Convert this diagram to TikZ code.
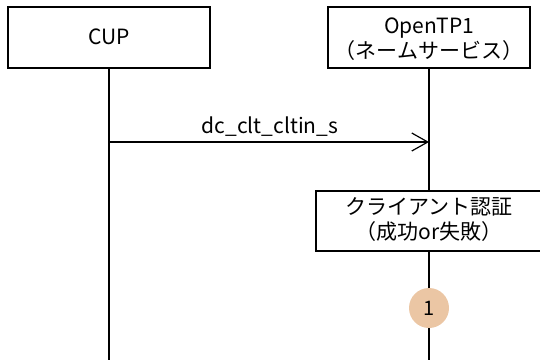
\documentclass[tikz,border=0pt]{standalone}
\usepackage{fontspec}
\setmainfont{Noto Sans CJK JP}
\usetikzlibrary{arrows.meta}
\definecolor{badge}{HTML}{EBC6A4}
\begin{document}
\begin{tikzpicture}[x=1pt,y=-1pt,
  lbl/.style={font=\fontsize{21}{25}\selectfont, inner sep=0pt, align=center},
  box/.style={draw, line width=1.2pt, fill=white},
  life/.style={line width=1.2pt},
  msg/.style={line width=1.2pt, -{Straight Barb[length=16pt,width=18pt,line width=1.2pt]}}]
\useasboundingbox (0,0) rectangle (540,360);
\draw[box] (8,7) rectangle (210,68);
\node[lbl] (cup) at (109,37) {CUP};
\draw[box] (328,7) rectangle (530,68);
\node[lbl] (otp) at (429,39) {OpenTP1\\（ネームサービス）};
\coordinate (cupb) at (109,68);
\coordinate (cupe) at (109,360);
\coordinate (otpb) at (429,68);
\coordinate (m1a) at (109,142);
\coordinate (m1b) at (429,142);
\coordinate (authT) at (429,191);
\coordinate (authB) at (429,251);
\coordinate (otpe) at (429,360);
\draw[life] (cupb) -- (cupe);
\draw[life] (otpb) -- (authT);
\draw[life] (authB) -- (otpe);
\draw[msg] (m1a) -- (m1b);
\node[lbl] (m1l) at (270,127) {dc\_clt\_cltin\_s};
\draw[box] (316,191) rectangle (541,251);
\node[lbl] (auth) at (429,220) {クライアント認証\\（成功or失敗）};
\node[circle, fill=badge, minimum size=40pt, inner sep=0pt, font=\fontsize{20}{20}\selectfont] (b1) at (429,308) {1};
\end{tikzpicture}
\end{document}
